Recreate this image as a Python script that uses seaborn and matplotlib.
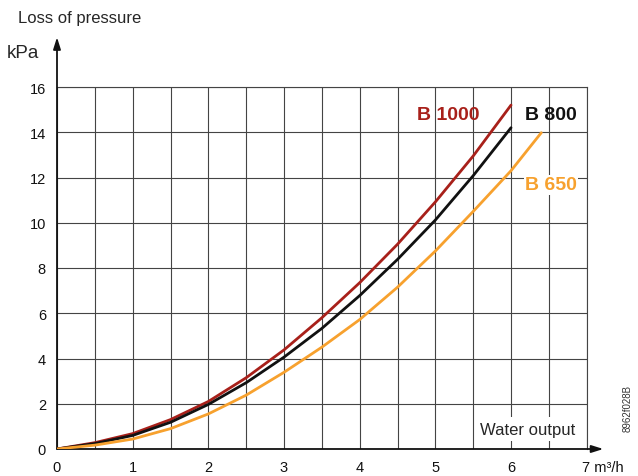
import matplotlib
matplotlib.use("Agg")
import matplotlib.pyplot as plt
import numpy as np
import pandas as pd
import seaborn as sns

# ─── Data ─────────────────────────────────────────────────────────────────────
flow_std = [0, 0.5, 1, 1.5, 2, 2.5, 3, 3.5, 4, 4.5, 5, 5.5, 6]
b1000 = [0, 0.28, 0.68, 1.3, 2.1, 3.15, 4.38, 5.8, 7.35, 9.05, 10.92, 12.95, 15.2]
b800 = [0, 0.24, 0.6, 1.18, 1.97, 2.93, 4.06, 5.33, 6.78, 8.38, 10.12, 12.08, 14.2]
flow_650 = [0, 0.5, 1, 1.5, 2, 2.5, 3, 3.5, 4, 4.5, 5, 5.5, 6, 6.4]
b650 = [0, 0.17, 0.44, 0.9, 1.55, 2.38, 3.39, 4.5, 5.72, 7.15, 8.75, 10.5, 12.3, 13.98]

series_names = ["B 1000", "B 800", "B 650"]
series_colors = ["#A8201A", "#111111", "#F7A12E"]
x_ticks = [0, 1, 2, 3, 4, 5, 6, 7]
x_labels = ["0", "1", "2", "3", "4", "5", "6", ""]
y_ticks = [0, 2, 4, 6, 8, 10, 12, 14, 16]

df = pd.concat([
    pd.DataFrame({"flow": flow_std, "kpa": b1000, "model": "B 1000"}),
    pd.DataFrame({"flow": flow_std, "kpa": b800, "model": "B 800"}),
    pd.DataFrame({"flow": flow_650, "kpa": b650, "model": "B 650"}),
])

# ─── Style ────────────────────────────────────────────────────────────────────
sns.set_style("white")
plt.rcParams["font.family"] = ["Liberation Sans", "DejaVu Sans"]

fig = plt.figure(figsize=(6.38, 4.77), dpi=100)
ax = fig.add_axes([57 / 638, 27 / 477, 529.7 / 638, 362 / 477])

sns.lineplot(
    data=df, x="flow", y="kpa", hue="model", hue_order=series_names,
    palette=dict(zip(series_names, series_colors)), linewidth=2.0,
    legend=False, ax=ax, zorder=5, sort=False,
)

ax.set_xlim(0, 7)
ax.set_ylim(0, 16)
ax.set_xticks(x_ticks)
ax.set_xticks(np.arange(0.5, 7, 1.0), minor=True)
ax.set_yticks(y_ticks)
ax.set_xticklabels(x_labels)
ax.tick_params(axis="both", which="both", length=0, labelsize=10.5, colors="#111111")
ax.tick_params(axis="x", pad=8)
ax.tick_params(axis="y", pad=8)
ax.grid(True, which="both", color="#444444", linewidth=0.8)
ax.set_xlabel("")
ax.set_ylabel("")

for side in ["top", "right"]:
    ax.spines[side].set_color("#444444")
    ax.spines[side].set_linewidth(0.8)
for side in ["left", "bottom"]:
    ax.spines[side].set_visible(False)

# axis arrows
arrow = dict(arrowstyle="-|>,head_length=0.7,head_width=0.22", color="#111111",
             linewidth=1.3, shrinkA=0, shrinkB=0)
ax.annotate("", xy=(0, 18.2), xytext=(0, 0), arrowprops=arrow, annotation_clip=False)
ax.annotate("", xy=(7.22, 0), xytext=(0, 0), arrowprops=arrow, annotation_clip=False)

# series labels
ax.text(5.17, 14.8, "B 1000", color=series_colors[0], fontsize=14, fontweight="bold",
        ha="center", va="center", zorder=6)
ax.text(6.52, 14.8, "B 800", color=series_colors[1], fontsize=14, fontweight="bold",
        ha="center", va="center", zorder=6)
ax.text(6.53, 11.68, "B 650", color=series_colors[2], fontsize=14, fontweight="bold",
        ha="center", va="center", zorder=6,
        bbox=dict(facecolor="white", edgecolor="none", pad=1))

# axis titles
fig.text(18 / 638, 1 - 18 / 477, "Loss of pressure", fontsize=12, ha="left", va="center")
fig.text(7 / 638, 1 - 53 / 477, "kPa", fontsize=13.5, ha="left", va="center")
ax.text(6.22, 0.88, "Water output", fontsize=12, ha="center", va="center", zorder=6,
        bbox=dict(facecolor="white", edgecolor="none", pad=3))
ax.annotate("7 m³/h", xy=(7, 0), xytext=(-3.2, -8), textcoords="offset points",
            fontsize=10.5, ha="left", va="top", color="#111111", annotation_clip=False)
fig.text(628 / 638, 1 - 408 / 477, "8962f028B", fontsize=7, rotation=90,
         ha="center", va="center", color="#333333")

fig.savefig("out.png", dpi=100)
